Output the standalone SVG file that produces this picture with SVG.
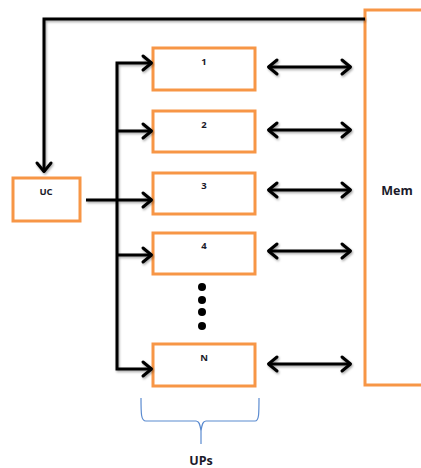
<svg xmlns="http://www.w3.org/2000/svg" width="421" height="468" viewBox="0 0 421 468">
  <style>
    .box { fill: #ffffff; stroke: #f79646; stroke-width: 3; }
    .lbl { font-family: "Open Sans", "Liberation Sans", sans-serif; font-weight: bold; fill: #1a1a2a; text-anchor: middle; }
    .small { font-size: 9.5px; }
    .big { font-size: 12.5px; }
    .wire { fill: none; stroke: #000000; stroke-width: 3; stroke-linejoin: miter; }
    .brace { fill: none; stroke: #5b8bd0; stroke-width: 1.2; }
  </style>
  <defs>
    <marker id="chev" markerUnits="userSpaceOnUse" markerWidth="20" markerHeight="20" viewBox="-12 -10 14 20" refX="0" refY="0" orient="auto-start-reverse">
      <path d="M-9,-7 L-0.5,0 L-9,7" fill="none" stroke="#000" stroke-width="3" stroke-linecap="round" stroke-linejoin="round"/>
    </marker>
    <filter id="shade" x="-10%" y="-50%" width="120%" height="200%">
      <feDropShadow dx="1" dy="1.5" stdDeviation="1.2" flood-color="#000" flood-opacity="0.35"/>
    </filter>
  </defs>

  <!-- shared memory block -->
  <g id="mem">
    <rect class="box" x="365" y="10" width="80" height="375"/>
    <text class="lbl big" x="397" y="195">Mem</text>
  </g>

  <!-- control unit -->
  <g id="uc">
    <rect class="box" x="13" y="178" width="67" height="43"/>
    <text class="lbl small" x="46" y="195">UC</text>
  </g>

  <!-- processing units -->
  <g id="up1">
    <rect class="box" x="153" y="48" width="102" height="42"/>
    <text class="lbl small" x="204" y="65">1</text>
  </g>
  <g id="up2">
    <rect class="box" x="153" y="111" width="102" height="41"/>
    <text class="lbl small" x="204" y="128">2</text>
  </g>
  <g id="up3">
    <rect class="box" x="153" y="173" width="102" height="41"/>
    <text class="lbl small" x="204" y="189">3</text>
  </g>
  <g id="up4">
    <rect class="box" x="153" y="233" width="102" height="41"/>
    <text class="lbl small" x="204" y="249">4</text>
  </g>
  <g id="upN">
    <rect class="box" x="153" y="344" width="102" height="42"/>
    <text class="lbl small" x="204" y="361">N</text>
  </g>

  <!-- ellipsis between unit 4 and unit N -->
  <g id="ellipsis" fill="#000">
    <circle cx="202" cy="287" r="4"/>
    <circle cx="202" cy="300" r="4"/>
    <circle cx="202" cy="312" r="4"/>
    <circle cx="202" cy="326" r="4"/>
  </g>

  <!-- group brace and caption -->
  <g id="ups">
    <path class="brace" d="M141,398 C141,414 141,421 146,421 L196,421 C199,421 200,424 201,431 L201,444 M201,431 C202,424 203,421 206,421 L255,421 C259,421 259,414 259,398"/>
    <text class="lbl big" x="201" y="465">UPs</text>
  </g>

  <!-- connectors -->
  <g id="connectors" filter="url(#shade)">
    <path class="wire" d="M365,19 H44 V172" marker-end="url(#chev)"/>
    <path class="wire" d="M86,200 H152" marker-end="url(#chev)"/>
    <path class="wire" d="M152,63 H117 V369 H152" marker-start="url(#chev)" marker-end="url(#chev)"/>
    <path class="wire" d="M117,131 H152" marker-end="url(#chev)"/>
    <path class="wire" d="M117,255 H152" marker-end="url(#chev)"/>
    <path class="wire" d="M268,67 H351" marker-start="url(#chev)" marker-end="url(#chev)"/>
    <path class="wire" d="M268,130 H351" marker-start="url(#chev)" marker-end="url(#chev)"/>
    <path class="wire" d="M268,190 H351" marker-start="url(#chev)" marker-end="url(#chev)"/>
    <path class="wire" d="M268,251 H351" marker-start="url(#chev)" marker-end="url(#chev)"/>
    <path class="wire" d="M268,364 H351" marker-start="url(#chev)" marker-end="url(#chev)"/>
  </g>
</svg>
